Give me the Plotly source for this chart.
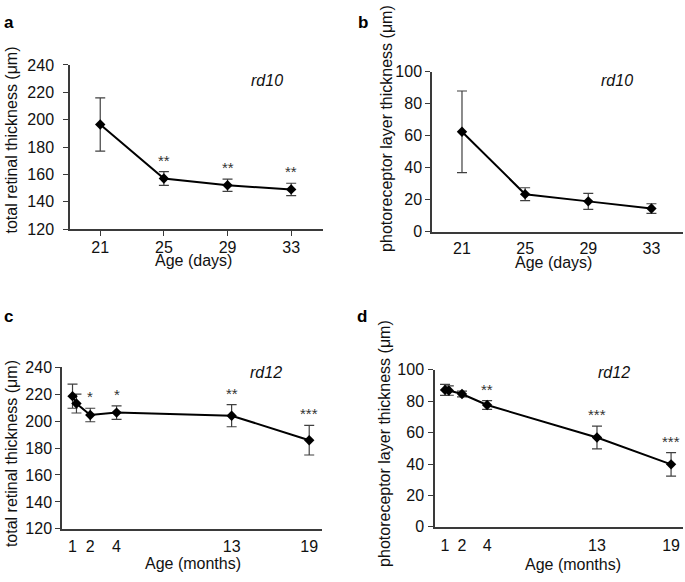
import plotly.graph_objects as go

# ---- data ----
days = [21, 25, 29, 33]
a_total = [196.5, 157, 152, 149]
a_err = [19.5, 5, 4.5, 4.5]
a_sig = ["", "**", "**", "**"]

b_photo = [62.5, 23.5, 19, 14.5]
b_err = [25.5, 4, 5, 3]
b_sig = ["", "", "", ""]

months_x = [1, 1.3, 2.35, 4.35, 13.1, 19]
month_tickvals = [1, 2.35, 4.35, 13.1, 19]
month_ticktext = ["1", "2", "4", "13", "19"]

c_total = [218.5, 213, 204.5, 206.3, 204, 185.8]
c_err = [9, 7, 5, 5, 8.2, 11]
c_sig = ["", "", "*", "*", "**", "***"]

d_photo = [87.2, 86.8, 84.6, 77.6, 56.9, 39.8]
d_err = [3.5, 3, 1.8, 2.8, 7.2, 7.5]
d_sig = ["", "", "", "**", "***", "***"]

W, H = 685, 582
FONT = "Arial, Liberation Sans, sans-serif"
AX = "#3a3a3a"


def px(x0, x1):
    return [x0 / W, x1 / W]


def py(top, bottom):
    return [1 - bottom / H, 1 - top / H]


panels = [
    dict(ax="", x=days, y=a_total, err=a_err, sig=a_sig, strain="rd10",
         spos=(31.5, 229), xt="Age (days)", yt="total retinal thickness (μm)",
         xd=px(70, 323), yd=py(58.7, 227.7), yr=[120, 240], dt=20,
         xr=[19.1, 35], tv=days, tt=[str(d) for d in days], xticks="outside",
         letter="a", lpos=(9, 15), xtpos=(193, 260), ytpos=(11.5, 136),
         ystand=6, xstand=-2),
    dict(ax="2", x=days, y=b_photo, err=b_err, sig=b_sig, strain="rd10",
         spos=(30.8, 94.3), xt="Age (days)",
         yt="photoreceptor layer thickness (μm)",
         xd=px(432, 683), yd=py(65.7, 230.5), yr=[0, 100], dt=20,
         xr=[19.1, 35], tv=days, tt=[str(d) for d in days], xticks="",
         letter="b", lpos=(362.5, 15), xtpos=(553, 262), ytpos=(386.5, 124),
         ystand=0, xstand=1),
    dict(ax="3", x=months_x, y=c_total, err=c_err, sig=c_sig, strain="rd12",
         spos=(15.7, 236.4), xt="Age (months)",
         yt="total retinal thickness (μm)",
         xd=px(62, 321.7), yd=py(370, 536.5), yr=[120, 240], dt=20,
         xr=[0.2, 19.95], tv=month_tickvals, tt=month_ticktext, xticks="",
         letter="c", lpos=(8.5, 318), xtpos=(193, 572), ytpos=(11.5, 459),
         ystand=0, xstand=2),
    dict(ax="4", x=months_x, y=d_photo, err=d_err, sig=d_sig, strain="rd12",
         spos=(14.45, 98.6), xt="Age (months)",
         yt="photoreceptor layer thickness (μm)",
         xd=px(435, 683), yd=py(372.7, 534.5), yr=[0, 100], dt=20,
         xr=[0.2, 19.95], tv=month_tickvals, tt=month_ticktext, xticks="",
         letter="d", lpos=(361.5, 318), xtpos=(573, 573), ytpos=(385, 449),
         ystand=1, xstand=3),
]

fig = go.Figure()
annotations = []
layout = {}

for p in panels:
    xa, ya = "x" + p["ax"], "y" + p["ax"]
    fig.add_trace(go.Scatter(
        x=p["x"], y=p["y"], xaxis=xa, yaxis=ya,
        mode="lines+markers",
        line=dict(color="black", width=2),
        marker=dict(symbol="diamond", size=8, color="black"),
        error_y=dict(type="data", array=p["err"], visible=True,
                     color="#404040", thickness=1.2, width=5),
        showlegend=False, hoverinfo="x+y",
    ))
    layout["xaxis" + p["ax"]] = dict(
        domain=p["xd"], anchor=ya, range=p["xr"], tickmode="array",
        tickvals=p["tv"], ticktext=p["tt"], showgrid=False, zeroline=False,
        showline=True, linecolor=AX, linewidth=1.5, ticks=p["xticks"],
        ticklen=5, tickcolor=AX, tickfont=dict(size=16, color="#111"),
        ticklabelstandoff=p["xstand"], fixedrange=True,
    )
    layout["yaxis" + p["ax"]] = dict(
        domain=p["yd"], anchor=xa, range=p["yr"], dtick=p["dt"],
        showgrid=False, zeroline=False, showline=True, linecolor=AX,
        linewidth=1.5, ticks="outside", ticklen=5, tickcolor=AX,
        tickfont=dict(size=16, color="#111"),
        ticklabelstandoff=p["ystand"], fixedrange=True,
    )
    # significance stars sit just above the error bars
    for xv, yv, ev, s in zip(p["x"], p["y"], p["err"], p["sig"]):
        if s:
            annotations.append(dict(
                x=xv, y=yv + ev, xref=xa, yref=ya, text=s, showarrow=False,
                yanchor="bottom", yshift=1,
                font=dict(size=15, color="#333", family=FONT),
            ))
    annotations.append(dict(
        x=p["spos"][0], y=p["spos"][1], xref=xa, yref=ya,
        text="<i>" + p["strain"] + "</i>", showarrow=False,
        font=dict(size=16, color="#111", family=FONT),
    ))
    annotations.append(dict(
        x=p["xtpos"][0] / W, y=1 - p["xtpos"][1] / H, xref="paper",
        yref="paper", text=p["xt"], showarrow=False, xanchor="center",
        yanchor="middle", font=dict(size=16, color="#111", family=FONT),
    ))
    annotations.append(dict(
        x=p["ytpos"][0] / W, y=1 - p["ytpos"][1] / H, xref="paper",
        yref="paper", text=p["yt"], textangle=-90, showarrow=False,
        xanchor="center", yanchor="middle",
        font=dict(size=16, color="#111", family=FONT),
    ))
    annotations.append(dict(
        x=p["lpos"][0] / W, y=1 - p["lpos"][1] / H, xref="paper",
        yref="paper", text="<b>" + p["letter"] + "</b>", showarrow=False,
        xanchor="center", yanchor="middle",
        font=dict(size=17, color="black", family=FONT),
    ))

fig.update_layout(
    width=W, height=H, margin=dict(l=0, r=0, t=0, b=0),
    paper_bgcolor="white", plot_bgcolor="white",
    font=dict(family=FONT, size=16, color="#111"),
    annotations=annotations, **layout,
)

# drop the default body margin so the figure fills the window exactly
fig.write_html("out.html", config={"displayModeBar": False},
               post_script="document.body.style.margin='0';"
                           "document.body.style.overflow='hidden';")
